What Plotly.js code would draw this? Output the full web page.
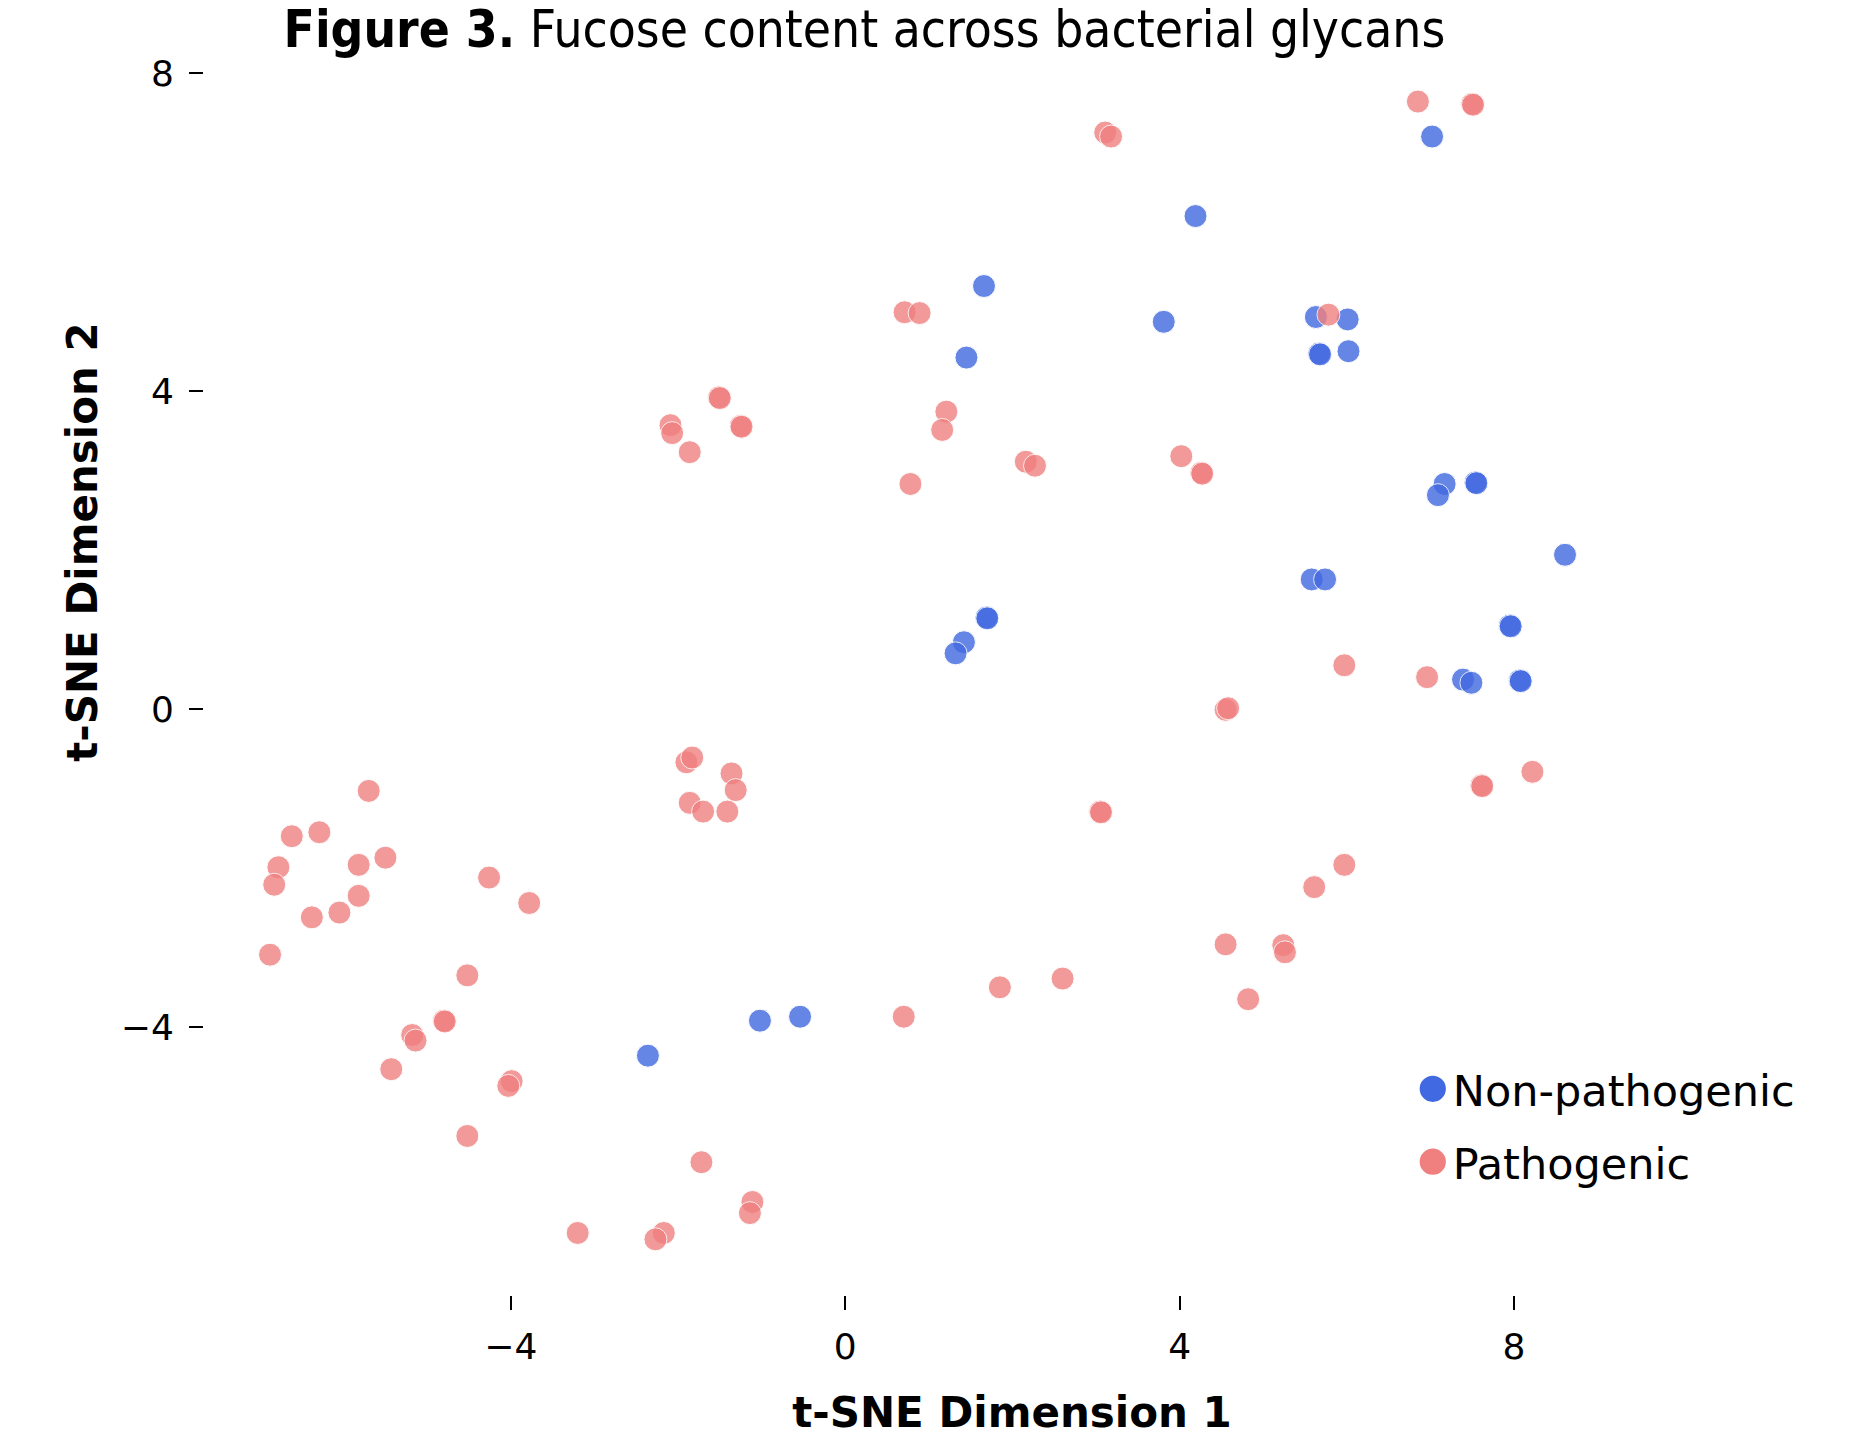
<!DOCTYPE html>
<html>
<head>
<meta charset="utf-8">
<script src="https://cdn.plot.ly/plotly-3.0.1.min.js"></script>
<style>
  html, body { margin: 0; padding: 0; background: #ffffff; }
  #chart { width: 1863px; height: 1437px; }
</style>
</head>
<body>
<div id="chart"></div>
<script>
// ---- Data ----
const seriesNames = ["Non-pathogenic", "Pathogenic"];

const nonPathX = [7.02, 4.19, 1.66, 3.81, 1.45, 5.63, 6.01, 5.67, 5.68, 6.02,
                  7.17, 7.09, 7.54, 7.55, 8.61, 5.58, 5.74, 7.95, 7.96, 1.69,
                  1.70, 1.42, 1.32, 7.39, 7.49, 8.07, 8.08, -0.54, -1.02, -2.36];
const nonPathY = [7.20, 6.20, 5.32, 4.87, 4.42, 4.93, 4.90, 4.47, 4.46, 4.50,
                  2.83, 2.69, 2.85, 2.84, 1.94, 1.63, 1.63, 1.05, 1.04, 1.15,
                  1.14, 0.84, 0.70, 0.37, 0.33, 0.36, 0.35, -3.87, -3.92, -4.36];

const pathX = [6.85, 7.50, 7.51, 3.11, 3.18, 0.71, 0.89, 5.78, -2.09, -2.07,
               -1.51, -1.50, -1.25, -1.24, -1.86, 1.21, 1.16, 0.78, 2.16, 2.27,
               4.02, 4.26, 4.27, 5.97, 6.96, 4.55, 4.58, 7.61, 7.62, 8.22,
               3.05, 3.06, 5.97, 5.61, 4.55, 5.24, 5.26, 4.82, 2.60, 1.85,
               0.70, -1.90, -1.83, -1.36, -1.31, -1.86, -1.70, -1.41, -5.70, -6.62,
               -6.29, -6.78, -6.83, -5.82, -5.50, -5.82, -6.05, -6.38, -6.88, -4.26,
               -3.78, -4.52, -5.18, -5.14, -4.80, -4.79, -5.43, -3.99, -4.03, -4.52,
               -1.72, -1.11, -1.14, -3.20, -2.17, -2.27];
const pathY = [7.64, 7.61, 7.60, 7.25, 7.20, 4.99, 4.98, 4.96, 3.57, 3.47,
               3.92, 3.91, 3.56, 3.55, 3.23, 3.74, 3.51, 2.83, 3.11, 3.06,
               3.18, 2.97, 2.96, 0.55, 0.40, -0.01, 0.01, -0.96, -0.97, -0.79,
               -1.29, -1.30, -1.96, -2.24, -2.96, -2.97, -3.06, -3.65, -3.39, -3.50,
               -3.87, -0.67, -0.61, -0.81, -1.02, -1.18, -1.29, -1.29, -1.03, -1.60,
               -1.55, -1.99, -2.21, -1.96, -1.87, -2.35, -2.56, -2.62, -3.09, -2.12,
               -2.44, -3.35, -4.10, -4.17, -3.92, -3.93, -4.53, -4.68, -4.74, -5.37,
               -5.70, -6.20, -6.34, -6.59, -6.59, -6.67];

const xTickVals = [-4, 0, 4, 8];
const yTickVals = [-4, 0, 4, 8];

const titleText = "<b>Figure 3.</b> Fucose content across bacterial glycans";
const xTitle = "<b>t-SNE Dimension 1</b>";
const yTitle = "<b>t-SNE Dimension 2</b>";

// ---- Styling ----
const colors = ["#4169E1", "#F08080"];
const baseFont = "DejaVu Sans, Lato, sans-serif";

function makeTrace(x, y, name, color, group) {
  return {
    type: "scatter",
    mode: "markers",
    x: x, y: y,
    name: name,
    legendgroup: group,
    marker: {
      color: color,
      size: 23,
      opacity: 0.8,
      line: { color: "#ffffff", width: 1 }
    },
    hoverinfo: "x+y+name"
  };
}

const data = [
  makeTrace(nonPathX, nonPathY, seriesNames[0], colors[0], "g1"),
  makeTrace(pathX, pathY, seriesNames[1], colors[1], "g2")
];

const axisCommon = {
  showgrid: false,
  zeroline: false,
  showline: false,
  ticks: "outside",
  ticklen: 14,
  tickwidth: 2,
  tickcolor: "#000000",
  tickfont: { family: baseFont, size: 36, color: "#000000" },
  tickmode: "array"
};

const layout = {
  width: 1863,
  height: 1437,
  paper_bgcolor: "#ffffff",
  plot_bgcolor: "#ffffff",
  margin: { l: 204, r: 43, t: 61, b: 142 },
  title: {
    text: titleText,
    font: { family: "Liberation Sans Narrow, DejaVu Sans Condensed, Arial Narrow, sans-serif", size: 51, color: "#000000" },
    x: 0.464, xref: "container", xanchor: "center",
    y: 0.992, yref: "container", yanchor: "top",
    pad: { t: 0, b: 0 }
  },
  xaxis: Object.assign({}, axisCommon, {
    range: [-7.67, 11.66],
    tickvals: xTickVals,
    ticklabelstandoff: 6,
    title: { text: xTitle, font: { family: baseFont, size: 42, color: "#000000" }, standoff: 33 }
  }),
  yaxis: Object.assign({}, axisCommon, {
    range: [-7.37, 8.15],
    tickvals: yTickVals,
    ticklabelstandoff: 8,
    title: { text: yTitle, font: { family: baseFont, size: 42, color: "#000000" }, standoff: 10 }
  }),
  showlegend: true,
  legend: {
    x: 0.748, xref: "paper", xanchor: "left",
    y: 0.195, yref: "paper", yanchor: "top",
    bgcolor: "rgba(0,0,0,0)",
    borderwidth: 0,
    font: { family: baseFont, size: 43, color: "#000000" },
    traceorder: "grouped",
    tracegroupgap: 14,
    itemsizing: "trace"
  }
};

function adjust() {
  // enlarge legend symbols (Plotly caps legend marker size at 16px)
  document.querySelectorAll("#chart .legend path.scatterpts").forEach(function (p) {
    const t = p.getAttribute("transform") || "";
    if (t.indexOf("scale") === -1) p.setAttribute("transform", t + " scale(1.75)");
    p.style.opacity = 1;
  });
  // the reference places the y-axis title above the panel centre
  const yt = document.querySelector("#chart .g-ytitle");
  if (yt) yt.setAttribute("transform", "translate(0,-136)");
}

Plotly.newPlot("chart", data, layout, { displayModeBar: false, responsive: false }).then(adjust);
</script>
</body>
</html>
